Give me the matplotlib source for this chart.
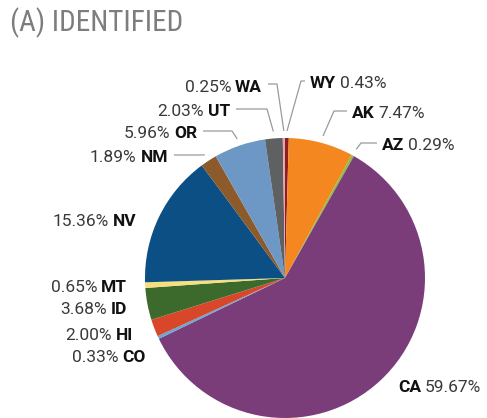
import matplotlib
matplotlib.use("Agg")
import matplotlib.pyplot as plt
from matplotlib import font_manager
import numpy as np

# ---- data ----
states = ["WY", "AK", "AZ", "CA", "CO", "HI", "ID", "MT", "NV", "NM", "OR", "UT", "WA"]
shares = [0.43, 7.47, 0.29, 59.67, 0.33, 2.00, 3.68, 0.65, 15.36, 1.89, 5.96, 2.03, 0.25]
share_labels = ["0.43%", "7.47%", "0.29%", "59.67%", "0.33%", "2.00%", "3.68%", "0.65%",
                "15.36%", "1.89%", "5.96%", "2.03%", "0.25%"]
colors = ["#8e1f1c", "#f4871f", "#8dbf3f", "#7a3d7a", "#6aa6d6", "#d9472b", "#3c6a2c",
          "#f6df7c", "#0b4f85", "#8c5a2b", "#6d97c5", "#5f6062", "#e9a3b4"]
title = "(A) IDENTIFIED"

# ---- layout (pixels, origin top-left) ----
W, H = 487, 418
cx, cy, R = 285, 278, 140
label_layout = {
    "WA": ("L", 262, 87, 277, True),
    "UT": ("L", 230, 112, 267, True),
    "OR": ("L", 197, 134, 232, True),
    "NM": ("L", 168, 158, 202, True),
    "NV": ("L", 136, 222, None, False),
    "MT": ("L", 127, 287, None, False),
    "ID": ("L", 127, 309, None, False),
    "HI": ("L", 133, 335, None, False),
    "CO": ("L", 146, 358, None, False),
    "WY": ("R", 310, 84, 301, True),
    "AK": ("R", 352, 114, 334, True),
    "AZ": ("R", 382, 146, 361, True),
    "CA": ("R", 398, 387, None, False),
}

available = {f.name for f in font_manager.fontManager.ttflist}
def pick(cands):
    for c in cands:
        if c in available:
            return c
    return "DejaVu Sans"
title_fam = pick(["Roboto Condensed", "Liberation Sans Narrow", "DejaVu Sans"])
label_fam = pick(["Roboto", "Liberation Sans", "DejaVu Sans"])
plt.rcParams["font.family"] = [label_fam, "DejaVu Sans"]

fig = plt.figure(figsize=(W / 100, H / 100), dpi=100)
ax = fig.add_axes([0, 0, 1, 1])

def Y(y):
    return H - y

wedges, _ = ax.pie(shares, colors=colors, startangle=90, counterclock=False,
                   center=(cx, Y(cy)), radius=R, wedgeprops=dict(linewidth=0))
ax.set_xlim(0, W)
ax.set_ylim(0, H)
ax.set_aspect("equal")
ax.axis("off")

fig.text(10 / W, 1 - 23 / H, title, fontsize=21, color="#7d7d7d", va="center", ha="left",
         family=[title_fam, "DejaVu Sans"])

renderer = fig.canvas.get_renderer()
fs = 12.5
gap = 4
for st, sh, lab, w in zip(states, shares, share_labels, wedges):
    side, xe, ye, elbow, has_line = label_layout[st]
    if side == "L":
        t_code = ax.text(xe, Y(ye), st, fontsize=fs, fontweight="bold", color="#111111",
                         ha="right", va="center")
        bb = t_code.get_window_extent(renderer)
        ax.text(bb.x0 - gap, Y(ye), lab, fontsize=fs, color="#3a3a3a", ha="right", va="center")
    else:
        t_code = ax.text(xe, Y(ye), st, fontsize=fs, fontweight="bold", color="#111111",
                         ha="left", va="center")
        bb = t_code.get_window_extent(renderer)
        ax.text(bb.x1 + gap, Y(ye), lab, fontsize=fs, color="#3a3a3a", ha="left", va="center")
    if has_line:
        ang = np.deg2rad((w.theta1 + w.theta2) / 2)
        tx = cx + 1.05 * R * np.cos(ang)
        ty = Y(cy) + 1.05 * R * np.sin(ang)
        x0 = xe + 6 if side == "L" else xe - 5
        ly = Y(ye - 3)
        ax.plot([x0, elbow, tx], [ly, ly, ty], color="#9a9a9a", lw=0.9, solid_capstyle="butt")

fig.savefig("out.png", dpi=100)
